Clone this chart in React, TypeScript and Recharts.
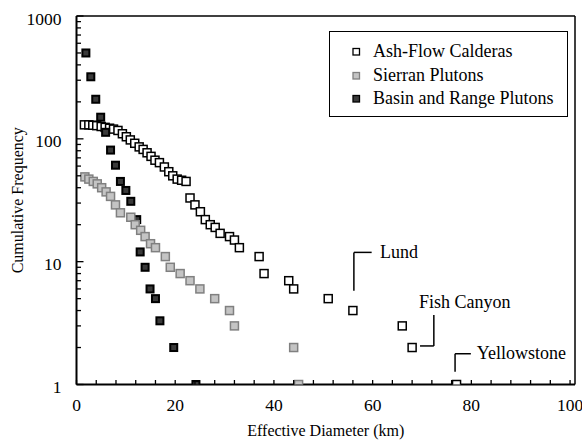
import React from 'react';
import { ScatterChart, Scatter, XAxis, YAxis, ReferenceLine, ReferenceDot, Legend } from 'recharts';

// ---- data ----
const ashFlowDiam = [1.6, 2.5, 3.3, 4.1, 5.0, 5.8, 6.7, 7.5, 8.4, 9.3, 10.1, 10.9, 11.8, 12.7, 13.5, 14.3, 15.1, 15.9, 16.8, 17.8, 18.7, 19.5, 20.4, 21.3, 22.2, 23, 24, 25.1, 26.1, 27.1, 28.1, 29.1, 31, 32, 33, 37, 38, 43, 44, 51, 56, 66, 68, 77];
const ashFlowFreq = [130, 130, 129, 128, 126, 124, 122, 120, 117, 110, 104, 98, 92, 86, 82, 77, 72, 67, 64, 59, 54, 50, 47, 46, 45, 33, 29, 25.5, 22, 20, 19, 17, 16, 15, 13, 11, 8, 7, 6, 5, 4, 3, 2, 1];

const sierranDiam = [1.7, 2.5, 3.4, 4.2, 5.1, 6.0, 6.9, 7.9, 8.9, 11.0, 11.9, 13.0, 13.9, 15.0, 16.0, 18.0, 19.0, 21.0, 23.0, 25.0, 28.0, 31.0, 32.0, 44.0, 45.0];
const sierranFreq = [49, 47, 45, 43, 40, 37, 34, 29, 25, 23, 20, 18, 16, 14, 13, 11, 9, 8, 7, 6, 5, 4, 3, 2, 1];

const basinDiam = [1.9, 2.9, 3.9, 4.9, 5.9, 6.9, 7.9, 8.9, 10, 11, 12.2, 12.9, 13.9, 14.9, 16, 16.9, 19.7, 24.2];
const basinFreq = [500, 320, 210, 150, 113, 81, 61, 45, 38, 31, 22, 12, 9, 6, 5, 3.3, 2, 1];

const seriesNames = ['Ash-Flow Calderas', 'Sierran Plutons', 'Basin and Range Plutons'];

const X_TICKS = [0, 4, 8, 12, 16, 20, 24, 28, 32, 36, 40, 44, 48, 52, 56, 60, 64, 68, 72, 76, 80, 84, 88, 92, 96, 100];
const X_LABELS = [0, 20, 40, 60, 80, 100];
const Y_TICKS = [1, 2, 3, 4, 5, 6, 7, 8, 9, 10, 20, 30, 40, 50, 60, 70, 80, 90, 100, 200, 300, 400, 500, 600, 700, 800, 900, 1000];
const Y_LABELS = [1, 10, 100, 1000];

// annotation callouts (data coordinates)
const annotations = [
  { text: 'Lund', tx: 61.5, ty: 12, path: [[56.2, 5.8], [56.2, 11.9], [59.8, 11.9]] },
  { text: 'Fish Canyon', tx: 69.4, ty: 4.72, path: [[69.6, 2.06], [72.4, 2.06], [72.4, 3.68]] },
  { text: 'Yellowstone', tx: 81.1, ty: 1.81, path: [[76.7, 1.27], [76.7, 1.78], [79.9, 1.78]] },
];

const toPts = (xs: number[], ys: number[]) => xs.map((d, i) => ({ d, f: ys[i] }));
const ashData = toPts(ashFlowDiam, ashFlowFreq);
const sierranData = toPts(sierranDiam, sierranFreq);
const basinData = toPts(basinDiam, basinFreq);

const FONT = '"Liberation Serif", "Times New Roman", serif';

const styles = [
  { fill: '#ffffff', stroke: '#000000', sw: 1.5, size: 8 },
  { fill: '#c4c4c4', stroke: '#808080', sw: 1.5, size: 8 },
  { fill: '#3a3a3a', stroke: '#000000', sw: 2, size: 7 },
];

const makeSquare = (s: { fill: string; stroke: string; sw: number; size: number }) => (props: any) => {
  const { cx, cy } = props;
  if (cx == null || cy == null) return <g />;
  return (
    <rect x={cx - s.size / 2} y={cy - s.size / 2} width={s.size} height={s.size} fill={s.fill} stroke={s.stroke} strokeWidth={s.sw} />
  );
};

const YTick = (props: any) => {
  const { x, y, payload } = props;
  const v = payload.value;
  const major = Y_LABELS.includes(v);
  return (
    <g>
      <line x1={x} x2={x + (major ? 7 : 4.5)} y1={y} y2={y} stroke="#000" strokeWidth={1.3} />
      {major && (
        <text x={x - 15} y={y + 8.5} textAnchor="end" fontSize={17.5} fontFamily={FONT} fill="#000">
          {v}
        </text>
      )}
    </g>
  );
};

const XTick = (props: any) => {
  const { x, y, payload } = props;
  const v = payload.value;
  const major = X_LABELS.includes(v);
  return (
    <g>
      <line x1={x} x2={x} y1={y} y2={y - 4.5} stroke="#000" strokeWidth={1.3} />
      {major && (
        <text x={x} y={y + 26.5} textAnchor="middle" fontSize={17.5} fontFamily={FONT} fill="#000">
          {v}
        </text>
      )}
    </g>
  );
};

const YTitle = (props: any) => {
  const vb = props.viewBox;
  const cx = vb.x + 23;
  const cy = vb.y + vb.height / 2;
  return (
    <text transform={`translate(${cx},${cy}) rotate(-90)`} textAnchor="middle" fontSize={16} fontFamily={FONT} fill="#000">
      Cumulative Frequency
    </text>
  );
};

const XTitle = (props: any) => {
  const vb = props.viewBox;
  return (
    <text x={vb.x + vb.width / 2} y={vb.y + 51.5} textAnchor="middle" fontSize={16} fontFamily={FONT} fill="#000">
      Effective Diameter (km)
    </text>
  );
};

const LegendBox = () => (
  <div
    style={{
      width: 239,
      height: 86,
      boxSizing: 'border-box',
      border: '1.5px solid #000',
      background: '#fff',
      paddingTop: 8,
      fontFamily: FONT,
      fontSize: 18,
      color: '#000',
    }}
  >
    {seriesNames.map((name, i) => {
      const s = [styles[0], styles[1], styles[2]][i];
      return (
        <div key={name} style={{ height: 23.5, lineHeight: '23.5px', display: 'flex', alignItems: 'center', whiteSpace: 'nowrap' }}>
          <svg width={43} height={23.5} style={{ display: 'block' }}>
            <rect x={23} y={8.5} width={6.5} height={6.5} fill={s.fill} stroke={s.stroke} strokeWidth={1.3} />
          </svg>
          <span>{name}</span>
        </div>
      );
    })}
  </div>
);

export default function App() {
  return (
    <div style={{ position: 'absolute', left: 0, top: 0, width: 582, height: 442, background: '#fff' }}>
      <ScatterChart width={582} height={442} margin={{ top: 16, right: 7, bottom: 7.5, left: 0 }} style={{ fontFamily: FONT }}>
        <XAxis
          type="number"
          dataKey="d"
          domain={[0, 101]}
          ticks={X_TICKS}
          interval={0}
          tickSize={0}
          tickMargin={0}
          tick={<XTick />}
          tickLine={false}
          axisLine={{ stroke: '#000', strokeWidth: 2 }}
          height={50}
          allowDataOverflow
          label={<XTitle />}
        />
        <YAxis
          type="number"
          dataKey="f"
          scale="log"
          domain={[1, 1000]}
          ticks={Y_TICKS}
          interval={0}
          tickSize={0}
          tickMargin={0}
          tick={<YTick />}
          tickLine={false}
          axisLine={{ stroke: '#000', strokeWidth: 2 }}
          width={76.5}
          allowDataOverflow
          label={<YTitle />}
        />
        <ReferenceLine y={1000} stroke="#000" strokeWidth={1.5} />
        <ReferenceLine x={101} stroke="#000" strokeWidth={1.5} />
        <Legend
          layout="vertical"
          align="center"
          verticalAlign="middle"
          wrapperStyle={{ left: 329, top: 31, width: 239, height: 86 }}
          content={() => <LegendBox />}
        />
        <Scatter name={seriesNames[0]} data={ashData} shape={makeSquare(styles[0])} isAnimationActive={false} />
        <Scatter name={seriesNames[2]} data={basinData} shape={makeSquare(styles[2])} isAnimationActive={false} />
        <Scatter name={seriesNames[1]} data={sierranData} shape={makeSquare(styles[1])} isAnimationActive={false} />
        {annotations.map((a) =>
          a.path.slice(1).map((p, i) => (
            <ReferenceLine
              key={`${a.text}-${i}`}
              segment={[
                { x: a.path[i][0], y: a.path[i][1] },
                { x: p[0], y: p[1] },
              ]}
              stroke="#000"
              strokeWidth={1.5}
            />
          ))
        )}
        {annotations.map((a) => (
          <ReferenceDot
            key={a.text}
            x={a.tx}
            y={a.ty}
            r={0}
            shape={(p: any) => (
              <text x={p.cx} y={p.cy + 6} fontSize={18} fontFamily={FONT} fill="#000">
                {a.text}
              </text>
            )}
          />
        ))}
      </ScatterChart>
    </div>
  );
}
